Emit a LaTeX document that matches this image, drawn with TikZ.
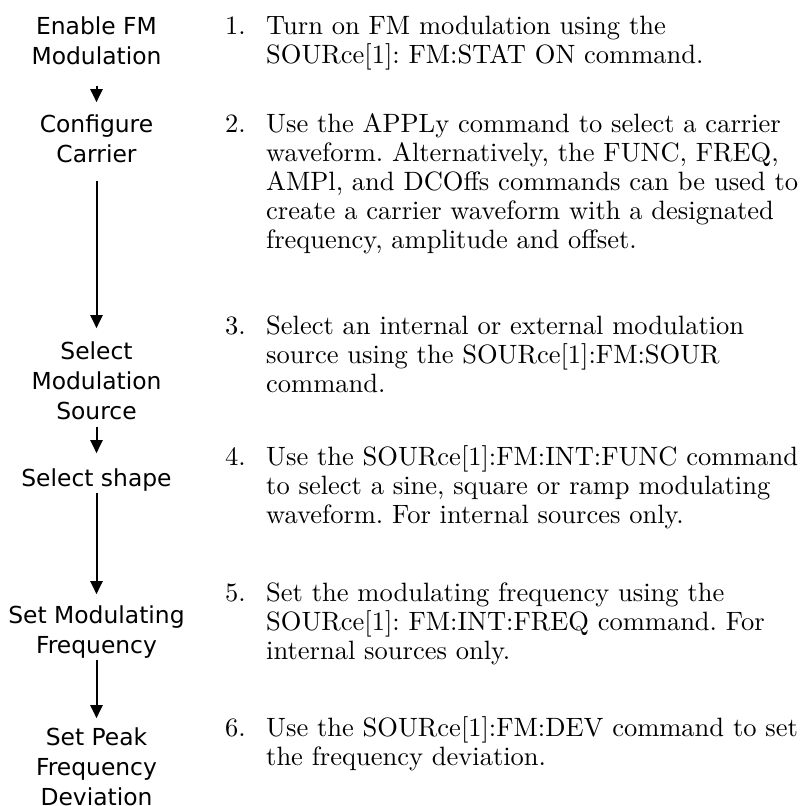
\documentclass[tikz,border=0pt]{standalone}
\usepackage{fontspec}
\setmainfont{lmroman10}[Extension=.otf, UprightFont=*-regular]
\newfontfamily\stagefont{DejaVu Sans}
\usetikzlibrary{arrows.meta}
\frenchspacing

\begin{document}
\begin{tikzpicture}[x=1pt, y=-1pt,
    stage/.style={font=\stagefont\fontsize{23.4}{30}\selectfont, align=center, anchor=north, inner sep=0pt},
    itemnum/.style={font=\fontsize{26.5}{29}\selectfont, anchor=base west, inner sep=0pt},
    itemtext/.style={font=\fontsize{26.5}{29}\selectfont, align=left, anchor=north west, inner sep=0pt},
    flow/.style={-{Triangle[length=13pt,width=12pt]}, line width=2pt}]
  \useasboundingbox (0,0) rectangle (805,806);

  % left column: the steps
  \node[stage] (s1) at (96.5,16.2) {Enable FM\\Modulation};
  \node[stage] (s2) at (96.5,114.2) {Configure\\Carrier};
  \node[stage] (s3) at (96.5,341.2) {Select\\Modulation\\Source};
  \node[stage] (s4) at (96.5,468.2) {Select shape};
  \node[stage] (s5) at (96.5,605.2) {Set Modulating\\Frequency};
  \node[stage] (s6) at (96.5,727.2) {Set Peak\\Frequency\\Deviation};

  \draw[flow, shorten <=21pt, shorten >=12pt] (s1) -- (s2);
  \draw[flow, shorten <=18pt, shorten >=13pt] (s2) -- (s3);
  \draw[flow, shorten <=7pt, shorten >=15pt] (s3) -- (s4);
  \draw[flow, shorten <=1.5pt, shorten >=11pt] (s4) -- (s5);
  \draw[flow, shorten <=1.5pt, shorten >=9pt] (s5) -- (s6);

  % right column: the commands
  \node[itemnum] (n1) at (225,34) {1.};
  \node[itemtext] (t1) at (266,15.6) {Turn on FM modulation using the\\SOURce[1]: FM:STAT ON command.};
  \node[itemnum] (n2) at (225,132) {2.};
  \node[itemtext] (t2) at (266,113.6) {Use the APPLy command to select a carrier\\waveform. Alternatively, the FUNC, FREQ,\\AMPl, and DCOffs commands can be used to\\create a carrier waveform with a designated\\frequency, amplitude and offset.};
  \node[itemnum] (n3) at (225,334) {3.};
  \node[itemtext] (t3) at (266,315.6) {Select an internal or external modulation\\source using the SOURce[1]:FM:SOUR\\command.};
  \node[itemnum] (n4) at (225,465) {4.};
  \node[itemtext] (t4) at (266,445.1) {Use the SOURce[1]:FM:INT:FUNC command\\to select a sine, square or ramp modulating\\waveform. For internal sources only.};
  \node[itemnum] (n5) at (225,601) {5.};
  \node[itemtext] (t5) at (266,582.3) {Set the modulating frequency using the\\SOURce[1]: FM:INT:FREQ command. For\\internal sources only.};
  \node[itemnum] (n6) at (225,736) {6.};
  \node[itemtext] (t6) at (266,716.1) {Use the SOURce[1]:FM:DEV command to set\\the frequency deviation.};
\end{tikzpicture}
\end{document}
